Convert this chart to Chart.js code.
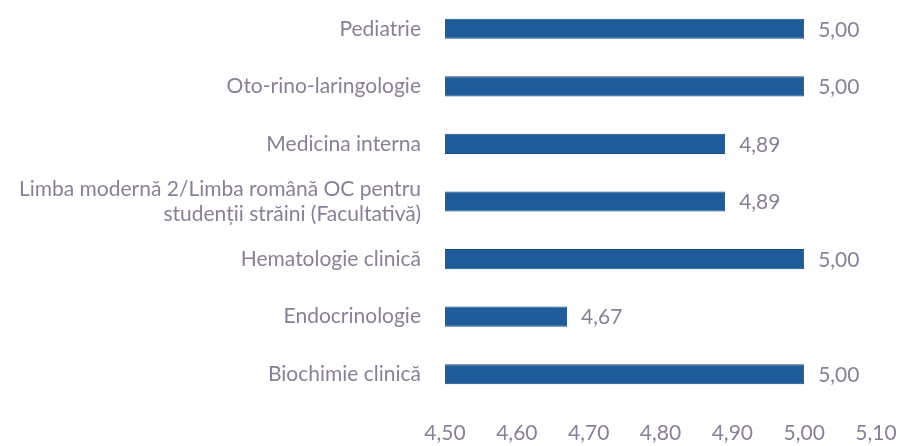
<!DOCTYPE html>
<html>
<head>
<meta charset="utf-8">
<script src="https://cdn.jsdelivr.net/npm/chart.js@4"></script>
<style>
  html, body { margin: 0; padding: 0; background: #fff; }
  #wrap { width: 901px; height: 446px; }
</style>
</head>
<body>
<div id="wrap"><canvas id="my-chart" width="901" height="446"></canvas></div>
<script>
'use strict';

// ***************** DATA ***************** //

let subjects = [
  'Pediatrie',
  'Oto-rino-laringologie',
  'Medicina interna',
  ['Limba modernă 2/Limba română OC pentru', 'studenții străini (Facultativă)'],
  'Hematologie clinică',
  'Endocrinologie',
  'Biochimie clinică'
];
let scores = [5.00, 5.00, 4.89, 4.89, 5.00, 4.67, 5.00];
let tickValues = [4.5, 4.6, 4.7, 4.8, 4.9, 5.0, 5.1];

// ***************** STYLE ***************** //

let barColor = '#1f5c99';
let textColor = '#8a7f98';
let fontFamily = 'Lato, "Open Sans", sans-serif';

function fmt(v) {
  return v.toFixed(2).replace('.', ',');
}

// draws the value at the end of each bar
let valueLabels = {
  id: 'valueLabels',
  afterDatasetsDraw(chart) {
    let c = chart.ctx;
    let meta = chart.getDatasetMeta(0);
    c.save();
    c.font = '21px ' + fontFamily;
    c.fillStyle = textColor;
    c.textBaseline = 'middle';
    c.textAlign = 'left';
    meta.data.forEach(function (bar, i) {
      c.fillText(fmt(scores[i]), bar.x + 14, bar.y + 1);
    });
    c.restore();
  }
};

let ctx = document.getElementById('my-chart').getContext('2d');

new Chart(ctx, {
  type: 'bar',
  data: {
    labels: subjects,
    datasets: [{
      data: scores,
      backgroundColor: barColor,
      borderColor: '#174b80',
      borderWidth: 1,
      barPercentage: 0.7,
      categoryPercentage: 0.5
    }]
  },
  options: {
    indexAxis: 'y',
    responsive: false,
    animation: false,
    layout: { padding: { top: 0, right: 25, bottom: 0, left: 0 } },
    plugins: {
      legend: { display: false },
      tooltip: { enabled: false }
    },
    scales: {
      x: {
        min: 4.5,
        max: 5.1,
        grid: { display: false, drawTicks: false },
        border: { display: false },
        afterBuildTicks(axis) {
          axis.ticks = tickValues.map(function (v) { return { value: v }; });
        },
        afterFit(axis) {
          axis.height = 43;
          axis.paddingRight = 0;
          axis.paddingLeft = 0;
        },
        ticks: {
          color: textColor,
          font: { family: fontFamily, size: 21 },
          padding: 18,
          maxRotation: 0,
          callback: function (v) { return fmt(v); }
        }
      },
      y: {
        grid: { display: false, drawTicks: false },
        border: { display: false },
        afterFit(axis) {
          axis.width = 445;
          axis.paddingTop = 0;
          axis.paddingBottom = 0;
        },
        ticks: {
          color: textColor,
          font: { family: fontFamily, size: 21 },
          padding: 24
        }
      }
    }
  },
  plugins: [valueLabels]
});
</script>
</body>
</html>
